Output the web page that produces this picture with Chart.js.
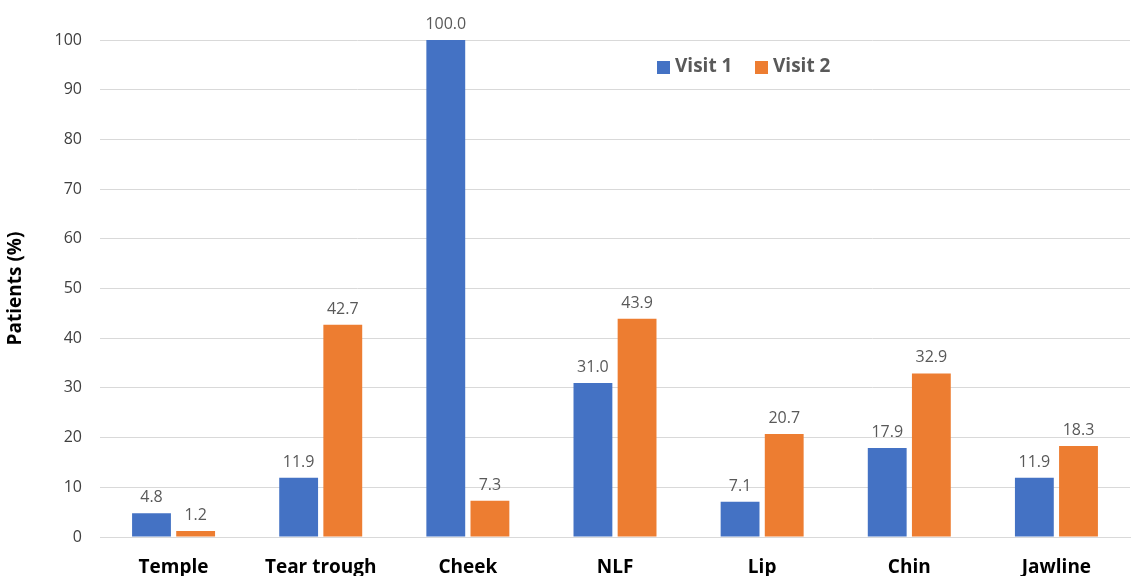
<!DOCTYPE html>
<html>
<head>
<meta charset="utf-8">
<script src="https://cdn.jsdelivr.net/npm/chart.js@4/dist/chart.umd.min.js"></script>
<style>
  html, body { margin: 0; padding: 0; background: #fff; }
  #wrap { width: 1134px; height: 576px; }
</style>
</head>
<body>
<div id="wrap"><canvas id="myChart" width="1134" height="576"></canvas></div>
<script>
const categories = ['Temple', 'Tear trough', 'Cheek', 'NLF', 'Lip', 'Chin', 'Jawline'];
const visit1 = [4.8, 11.9, 100.0, 31.0, 7.1, 17.9, 11.9];
const visit2 = [1.2, 42.7, 7.3, 43.9, 20.7, 32.9, 18.3];
const seriesNames = ['Visit 1', 'Visit 2'];
const seriesColors = ['#4472C4', '#ED7D31'];

const FONT = '"Open Sans", Lato, sans-serif';

// value labels above each bar
const barLabels = {
  id: 'barLabels',
  afterDatasetsDraw(chart) {
    const ctx = chart.ctx;
    ctx.save();
    ctx.font = '16px ' + FONT;
    ctx.fillStyle = '#595959';
    ctx.textAlign = 'center';
    ctx.textBaseline = 'alphabetic';
    chart.data.datasets.forEach((ds, i) => {
      chart.getDatasetMeta(i).data.forEach((bar, j) => {
        ctx.fillText(ds.data[j].toFixed(1), bar.x, bar.y - 11);
      });
    });
    ctx.restore();
  }
};

// legend drawn inside the plot area, top right-ish
const innerLegend = {
  id: 'innerLegend',
  afterDraw(chart) {
    const ctx = chart.ctx;
    const area = chart.chartArea;
    ctx.save();
    ctx.font = 'bold 19px ' + FONT;
    ctx.textBaseline = 'middle';
    let x = area.left + 557;
    const y = area.top + 27;
    seriesNames.forEach((name, i) => {
      ctx.fillStyle = seriesColors[i];
      ctx.fillRect(x, y - 6, 13, 13);
      ctx.fillStyle = '#595959';
      ctx.fillText(name, x + 18, y);
      x += 98;
    });
    ctx.restore();
  }
};

const ctx = document.getElementById('myChart').getContext('2d');
new Chart(ctx, {
  type: 'bar',
  data: {
    labels: categories,
    datasets: [
      { label: seriesNames[0], data: visit1, backgroundColor: seriesColors[0], barPercentage: 0.88, categoryPercentage: 0.6 },
      { label: seriesNames[1], data: visit2, backgroundColor: seriesColors[1], barPercentage: 0.88, categoryPercentage: 0.6 }
    ]
  },
  options: {
    responsive: false,
    animation: false,
    layout: { padding: { top: 40, right: 4, left: 0, bottom: 0 } },
    plugins: {
      legend: { display: false },
      tooltip: { enabled: false }
    },
    scales: {
      x: {
        grid: { display: false, drawTicks: false },
        border: { color: '#d9d9d9', width: 1 },
        ticks: { color: '#000', font: { family: FONT, size: 19, weight: 'bold' }, padding: 19, maxRotation: 0 },
        afterFit(scale) { scale.height = 39; }
      },
      y: {
        min: 0,
        max: 100,
        ticks: { stepSize: 10, color: '#404040', font: { family: FONT, size: 16 }, padding: 18 },
        grid: { color: '#d9d9d9', drawTicks: false },
        border: { display: false },
        title: { display: true, text: 'Patients (%)', color: '#000', font: { family: FONT, size: 19, weight: 'bold' }, padding: { top: 4, bottom: 8 } },
        afterFit(scale) { scale.width = 100; }
      }
    }
  },
  plugins: [barLabels, innerLegend]
});
</script>
</body>
</html>
